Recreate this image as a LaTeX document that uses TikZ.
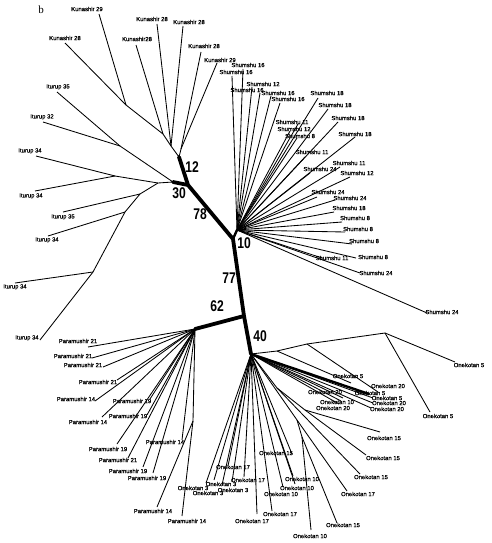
\documentclass[tikz,border=0pt]{standalone}
\usepackage{fontspec}
\setmainfont{Liberation Sans}
\newfontfamily\labfont[FakeBold=0.6]{Liberation Sans}
\newfontfamily\numfont[FakeStretch=0.78]{Liberation Sans}
\newfontfamily\serfont{Liberation Serif}
\begin{document}
\begin{tikzpicture}[x=1pt,y=-1pt,
  lab/.style={font=\labfont\fontsize{5.9}{6}\selectfont, inner sep=0pt},
  br/.style={line width=0.85pt},
  thk/.style={line width=3.8pt, line cap=round, line join=round},
  num/.style={font=\numfont\bfseries\fontsize{15.5}{15.5}\selectfont, inner sep=0pt}]
\useasboundingbox (0,0) rectangle (491,543);
\node[font=\serfont\fontsize{11}{11}\selectfont, inner sep=0pt] (b) at (41,10) {b};
% backbone
\coordinate (K) at (179,157);
\coordinate (J) at (188,185);
\coordinate (I) at (173,182);
\coordinate (S) at (233,239);
\coordinate (HS) at (237,230);
\coordinate (P) at (244,316);
\coordinate (HP) at (195,329);
\coordinate (HO) at (251,354);
% Kunashir internal
\coordinate (Ka) at (126,105);
\coordinate (Kb) at (163,134);
\coordinate (Kc) at (171,146);
\coordinate (Ke) at (181,149);
\draw[br] (Ka) -- (Kb) -- (Kc) -- (K);
\draw[br] (Ke) -- (K);
% Iturup internal
\coordinate (Ia) at (115,176);
\coordinate (Ib) at (120,146);
\coordinate (Ic) at (158,183);
\coordinate (Id) at (140,194);
\coordinate (Ie) at (125,212);
\coordinate (If) at (93,272);
\draw[br] (Ib) -- (I);
\draw[br] (Ia) -- (Ic) -- (I);
\draw[br] (Ic) -- (Id) -- (Ie) -- (If);
% Paramushir internal
\coordinate (PN) at (193,421);
\draw[br] (HP) -- (PN);
% Onekotan internal
\coordinate (Oa) at (277,351);
\coordinate (Ob) at (307,344);
\coordinate (Oc) at (385,333);
\coordinate (On1) at (277,388);
\coordinate (On2) at (305,410);
\coordinate (On4) at (297,420);
\coordinate (On3) at (302,437);
\draw[br] (HO) -- (Oa) -- (Ob) -- (Oc);
\draw[br] (HO) -- (On1) -- (On2);
\draw[br] (HO) -- (On4) -- (On3);
% Onekotan bundles
\coordinate (B1) at (369,394);
\draw[line width=2.4pt] (HO) -- (B1);
\coordinate (B2) at (343,398);
\coordinate (B3) at (341,401);
\coordinate (B4) at (339,404);
\draw[br] (HO) -- (B2);
\draw[br] (HO) -- (B3);
\draw[br] (HO) -- (B4);
\node[lab] (ob1) at (370,393) {Onekotan 5};
\node[lab] (ob2) at (325,392) {Onekotan 20};
\node[lab] (ob3) at (337,402) {Onekotan 10};
\node[lab] (ob4) at (333,408) {Onekotan 20};
% leaves
\foreach \h/\tx/\ty/\lx/\ly/\t [count=\i] in {
 Ka/99/14/87/9/Kunashir 29,
 Ka/65/43/65/38/Kunashir 28,
 Kb/136/45/137/39/Kunashir28,
 Kc/157/24/152/19/Kunashir 28,
 Kc/183/26/189/22/Kunashir 28,
 Ke/201/52/204/46/Kunashir 28,
 Ke/217/63/220/60/Kunashir 29,
 Ib/57/92/58/87/Iturup 35,
 Ib/43/122/42/117/Iturup 32,
 Ia/36/156/30/151/Iturup 34,
 Ia/35/191/31/196/Iturup 34,
 Id/63/212/63/217/Iturup 35,
 Ie/48/236/47/240/Iturup 34,
 If/15/283/15/287/Iturup 34,
 If/40/340/27/338/Iturup 34,
 HS/243/69/248/65/Shumshu 16,
 HS/232/76/236/72/Shumshu 16,
 HS/252/87/263/84/Shumshu 12,
 HS/260/93/247/90/Shumshu 16,
 HS/271/96/278/93/Shumshu 16,
 HS/280/103/288/99/Shumshu 16,
 HS/318/98/327/93/Shumshu 18,
 HS/328/109/335/105/Shumshu 18,
 HS/338/122/348/118/Shumshu 18,
 HS/298/124/292/122/Shumshu 11,
 HS/290/131/294/129/Shumshu 12,
 HS/297/138/300/136/Shumshu 8,
 HS/355/137/355/134/Shumshu 18,
 HS/305/157/312/152/Shumshu 11,
 HS/340/167/349/163/Shumshu 11,
 HS/310/173/320/169/Shumshu 24,
 HS/350/177/357/173/Shumshu 12,
 HS/317/197/328/192/Shumshu 24,
 HS/335/200/350/198/Shumshu 24,
 HS/334/212/349/208/Shumshu 18,
 HS/342/222/355/218/Shumshu 8,
 HS/345/232/358/229/Shumshu 8,
 HS/352/244/364/241/Shumshu 8,
 HS/356/258/373/257/Shumshu 8,
 HS/322/258/332/258/Shumshu 11,
 HS/360/273/376/273/Shumshu 24,
 HS/427/313/442/312/Shumshu 24,
 HP/88/347/78/341/Paramushir 21,
 HP/92/358/73/356/Paramushir 21,
 HP/103/367/83/365/Paramushir 21,
 HP/117/380/98/382/Paramushir 21,
 HP/95/401/76/399/Paramushir 14,
 HP/102/417/88/422/Paramushir 14,
 HP/150/399/132/401/Paramushir 19,
 HP/147/415/128/416/Paramushir 19,
 HP/117/444/108/449/Paramushir 19,
 HP/128/458/118/460/Paramushir 21,
 HP/143/467/128/471/Paramushir 19,
 HP/153/473/147/478/Paramushir 19,
 HP/182/440/165/442/Paramushir 14,
 PN/157/507/153/511/Paramushir 14,
 PN/182/516/187/521/Paramushir 14,
 Oc/455/362/469/365/Onekotan 5,
 Oc/430/412/438/416/Onekotan 5,
 Ob/378/392/388/386/Onekotan 20,
 Oa/351/383/348/376/Onekotan 5,
 HO/373/398/387/398/Onekotan 5,
 HO/373/403/389/403/Onekotan 20,
 HO/371/408/387/409/Onekotan 20,
 On2/380/432/384/438/Onekotan 15,
 On2/366/455/383/458/Onekotan 15,
 On1/360/474/371/477/Onekotan 15,
 On4/347/491/358/494/Onekotan 17,
 On3/337/523/343/525/Onekotan 15,
 On3/311/530/310/536/Onekotan 10,
 HO/272/511/280/514/Onekotan 17,
 HO/257/514/252/521/Onekotan 17,
 HO/283/487/281/494/Onekotan 10,
 HO/295/484/297/488/Onekotan 10,
 HO/293/476/302/479/Onekotan 10,
 HO/292/454/276/453/Onekotan 15,
 HO/228/466/233/467/Onekotan 17,
 HO/244/477/248/480/Onekotan 17,
 HO/206/483/193/488/Onekotan 3,
 HO/214/480/221/484/Onekotan 3,
 HO/222/485/208/493/Onekotan 3,
 HO/232/482/233/490/Onekotan 3}
{
  \coordinate (t\i) at (\tx,\ty);
  \draw[br] (\h) -- (t\i);
  \node[lab] (l\i) at (\lx,\ly) {\t};
}
% thick backbone
\draw[thk] (K) -- (J) -- (S) -- (P) -- (HO);
\draw[thk] (I) -- (J);
\draw[thk] (P) -- (HP);
\draw[line width=2.4pt] (S) -- (HS);
% support values
\node[num] (n12) at (192,167) {12};
\node[num] (n30) at (179,193) {30};
\node[num] (n78) at (200,214) {78};
\node[num] (n10) at (244,243) {10};
\node[num] (n77) at (229,278) {77};
\node[num] (n62) at (217,306) {62};
\node[num] (n40) at (260,336) {40};
\end{tikzpicture}
\end{document}
